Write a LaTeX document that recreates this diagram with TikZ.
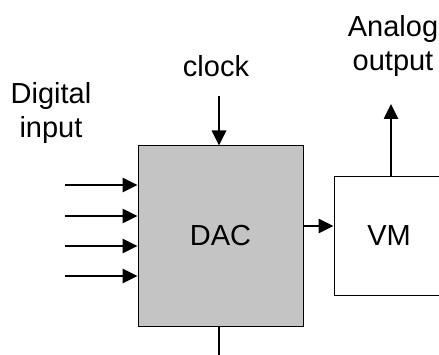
\documentclass[tikz,border=0pt]{standalone}
\usepackage{fontspec}
\setmainfont{Liberation Sans}
\definecolor{dacgray}{RGB}{196,196,196}
\usetikzlibrary{arrows.meta,positioning,calc}

\tikzset{
    blockbox/.style={draw, line width=1pt, inner sep=0pt, font=\fontsize{29}{34}\selectfont},
    sig/.style={line width=2.6pt, -{Triangle[length=15pt,width=14pt]}},
    lbl/.style={font=\fontsize{29}{34}\selectfont, align=center}
}

\begin{document}
\begin{tikzpicture}[x=1pt, y=-1pt]
            \useasboundingbox (0,0) rectangle (439,355);
            % blocks
            \node[blockbox, fill=dacgray, minimum width=165pt, minimum height=180pt] (dac) at (220.5,236) {DAC};
            \node[blockbox, fill=white, minimum width=110pt, minimum height=119pt] (vm) at (389,236) {VM};
            % labels
            \node[lbl] (digin) at (51,113) {Digital\\input};
            \node[lbl] (clk) at (216,66) {clock};
            \node[lbl] (anout) at (393,46) {Analog\\output};
            % digital inputs
            \foreach \y [count=\i] in {185,216,246,276} {
                \coordinate (in\i) at (65,\y);
                \draw[sig] (in\i) -- (in\i -| dac.west);
            }
            % clock, output and ground
            \coordinate (clktop) at (219,96);
            \draw[sig] (clktop) -- (clktop |- dac.north);
            \draw[sig] (dac.east |- 0,226) -- (vm.west |- 0,226);
            \coordinate (outtop) at (391,104);
            \draw[sig] (outtop |- vm.north) -- (outtop);
            \coordinate (gnd) at (219,355);
            \draw[line width=1.2pt] (gnd |- dac.south) -- (gnd);
\end{tikzpicture}
\end{document}
